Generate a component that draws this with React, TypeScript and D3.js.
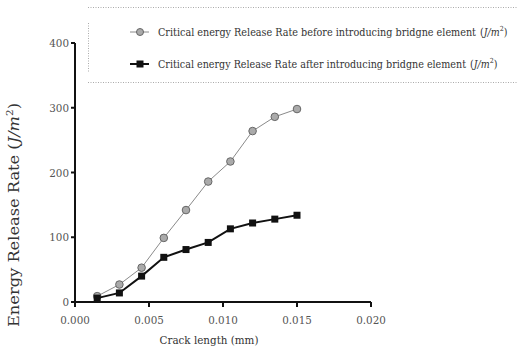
import React from 'react';
import * as d3 from 'd3';

const crackLength = [0.0015, 0.003, 0.0045, 0.006, 0.0075, 0.009, 0.0105, 0.012, 0.0135, 0.015];
const beforeBridging = [9, 27, 53, 99, 142, 186, 217, 264, 286, 298];
const afterBridging = [6, 14, 40, 69, 81, 92, 113, 122, 128, 134];
const xTicks = [0, 0.005, 0.01, 0.015, 0.02];
const yTicks = [0, 100, 200, 300, 400];
const legendLabels = [
  'Critical energy Release Rate before introducing bridgne element',
  'Critical energy Release Rate after introducing bridgne element',
];

const App = () => {
  const width = 517;
  const height = 353;
  const x = d3.scaleLinear().domain([0, 0.02]).range([75, 371]);
  const y = d3.scaleLinear().domain([0, 400]).range([302, 43]);

  const line = d3.line<number>()
    .x((_, i) => x(crackLength[i]))
    .y(d => y(d));

  const font = '"DejaVu Serif Condensed", "DejaVu Serif", serif';
  const grey = '#8a8a8a';
  // legend text end points, the unit follows
  const legendLength = [318, 308];

  return (
    <svg width={width} height={height} style={{ position: 'absolute', left: 0, top: 0, background: '#fff', fontFamily: font }}>
      {/* legend box, dotted */}
      <g stroke="#aaa" strokeWidth={1} strokeDasharray="1,1.5" fill="none">
        <line x1={88} x2={517} y1={7.5} y2={7.5} />
        <line x1={88} x2={517} y1={82.5} y2={82.5} />
        <line x1={88.5} x2={88.5} y1={23} y2={72} />
      </g>
      {legendLabels.map((label, i) => {
        const ly = 32 + i * 32;
        const ux = 158 + legendLength[i] + 4;
        return (
          <g key={label} fill="#333">
            <line x1={130} x2={149} y1={ly} y2={ly} stroke={i === 0 ? grey : '#111'} strokeWidth={i === 0 ? 1 : 2} />
            {i === 0
              ? <circle cx={140} cy={ly} r={3.5} fill="#aaa" stroke="#666" strokeWidth={1} />
              : <rect x={136.5} y={ly - 3.5} width={7} height={7} fill="#111" />}
            <text x={158} y={ly + 4} fontSize={10.5} textLength={legendLength[i]} lengthAdjust="spacingAndGlyphs">{label}</text>
            <text x={ux} y={ly + 4} fontSize={10.5}>
              (<tspan fontStyle="italic">J/m</tspan><tspan fontSize={7} dy={-5}>2</tspan><tspan dy={5}>)</tspan>
            </text>
          </g>
        );
      })}

      {/* series */}
      <path d={line(beforeBridging) || ''} fill="none" stroke={grey} strokeWidth={1} />
      {beforeBridging.map((v, i) => (
        <circle key={'b' + i} cx={x(crackLength[i])} cy={y(v)} r={3.8} fill="#aaa" stroke="#666" strokeWidth={1} />
      ))}
      <path d={line(afterBridging) || ''} fill="none" stroke="#111" strokeWidth={2} />
      {afterBridging.map((v, i) => (
        <rect key={'a' + i} x={x(crackLength[i]) - 3.5} y={y(v) - 3.5} width={7} height={7} fill="#111" />
      ))}

      {/* axes */}
      <g stroke="#111" strokeWidth={2}>
        <line x1={x(0)} x2={x(0)} y1={y(400)} y2={y(0)} />
        <line x1={x(0)} x2={x(0.02)} y1={y(0)} y2={y(0)} />
        {yTicks.map(t => <line key={t} x1={x(0) - 4} x2={x(0)} y1={y(t)} y2={y(t)} />)}
        {xTicks.map(t => <line key={t} x1={x(t)} x2={x(t)} y1={y(0)} y2={y(0) + 5} />)}
      </g>
      {yTicks.map(t => (
        <text key={t} x={x(0) - 6} y={y(t) + 4} fontSize={11.5} fill="#555" textAnchor="end">{t}</text>
      ))}
      {xTicks.map(t => (
        <text key={t} x={x(t)} y={y(0) + 22} fontSize={11.5} fill="#555" textAnchor="middle">{d3.format('.3f')(t)}</text>
      ))}
      <text x={209} y={344} fontSize={11.5} fill="#333" textAnchor="middle">Crack length (mm)</text>
      <text transform="translate(19,215) rotate(-90)" fontSize={14} fill="#333" textAnchor="middle" textLength={224} lengthAdjust="spacingAndGlyphs">
        Energy Release Rate (<tspan fontStyle="italic">J/m</tspan><tspan fontSize={9} dy={-6}>2</tspan><tspan dy={6}>)</tspan>
      </text>
    </svg>
  );
};

export default App;
